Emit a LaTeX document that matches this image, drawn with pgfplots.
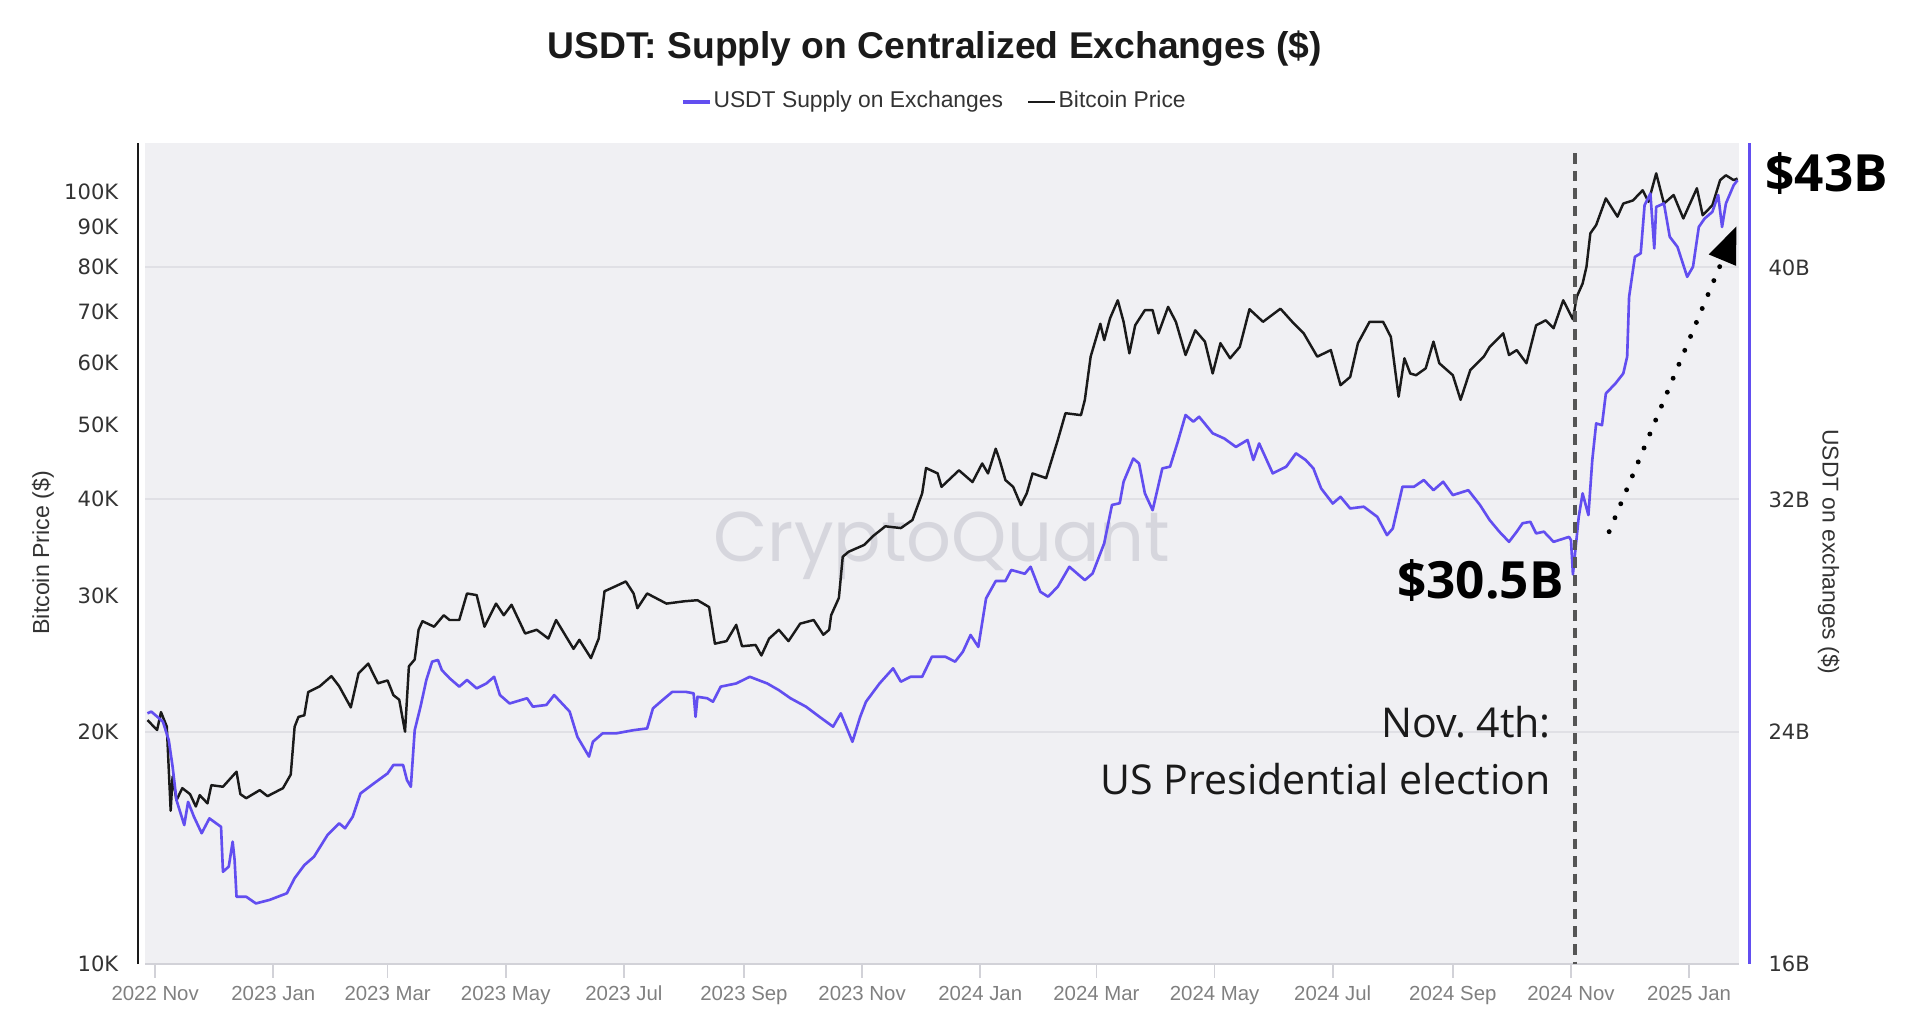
\documentclass[border=0pt]{standalone}
\usepackage{pgfplots}
\pgfplotsset{compat=1.18}
\usepackage{pgfplotstable}
\usepackage{fontspec}
\setmainfont{Liberation Sans}
\newfontfamily\tickfont{DejaVu Sans}
\newfontfamily\annfont{Open Sans}
\newfontfamily\wmfont{Poppins}
\usetikzlibrary{arrows.meta}

\definecolor{usdtc}{RGB}{98,78,240}
\definecolor{btcc}{RGB}{26,26,26}
\definecolor{plotbg}{RGB}{240,240,243}
\definecolor{gridc}{RGB}{224,224,229}
\definecolor{tickc}{RGB}{210,210,216}
\definecolor{xlabc}{RGB}{128,128,128}
\definecolor{labc}{RGB}{51,51,51}
\definecolor{wmc}{RGB}{214,214,221}
\definecolor{elecc}{RGB}{85,85,85}

% days since 2022-11-01, bitcoin price in thousands of $
\pgfplotstableread{
day btc
-4 20.7
1 20.1
3 21.2
6 20.3
8 15.8
9 17.5
11 16.3
14 16.9
18 16.6
21 16.0
23 16.55
27 16.15
29 17.05
35 16.97
42 17.75
44 16.6
47 16.4
54 16.8
58 16.5
66 16.9
70 17.6
72 20.3
74 20.9
77 21.0
79 22.5
85 22.9
91 23.6
95 22.9
101 21.5
105 23.8
110 24.5
115 23.1
120 23.3
123 22.3
126 22.0
129 20.0
131 24.3
134 24.8
136 27.1
138 27.8
144 27.35
149 28.3
152 27.9
157 27.9
161 30.2
166 30.05
170 27.35
176 29.3
180 28.3
184 29.2
191 26.8
197 27.1
203 26.4
207 27.9
216 25.6
219 26.3
225 24.9
229 26.4
232 30.4
237 30.8
243 31.3
247 30.2
249 28.9
254 30.2
264 29.3
273 29.5
280 29.6
286 29.0
289 26.0
295 26.2
300 27.5
303 25.8
310 25.9
313 25.1
317 26.4
322 27.1
327 26.2
333 27.6
340 27.9
345 26.7
348 27.1
349 28.3
353 29.8
355 33.7
358 34.2
366 34.9
371 35.9
377 36.9
385 36.7
391 37.6
396 40.7
398 43.9
404 43.2
406 41.5
415 43.6
422 42.1
427 44.5
430 43.2
434 46.5
436 44.95
439 42.35
443 41.5
447 39.3
450 40.7
453 43.2
460 42.6
466 47.7
470 51.7
478 51.4
480 53.8
483 61.2
488 67.5
490 64.3
493 68.6
497 72.4
500 67.9
503 61.8
506 67.2
511 70.3
515 70.3
518 65.6
523 71.0
527 67.9
532 61.5
537 66.2
542 64.0
546 58.2
550 63.7
555 60.9
560 63.0
565 70.5
572 67.9
581 70.6
588 67.5
593 65.6
600 61.2
607 62.4
612 56.2
617 57.6
621 63.7
627 67.9
634 67.9
638 64.9
642 54.3
645 60.9
648 58.2
651 57.9
656 59.1
660 64.0
663 60.0
670 57.9
674 53.8
679 58.8
686 61.2
689 63.0
696 65.6
699 61.5
703 62.4
708 60.0
713 67.2
718 68.2
722 66.6
727 72.4
732 68.4
734 73.2
737 76.1
739 80.0
741 88.4
744 90.6
749 98.1
755 92.9
758 96.6
763 97.5
768 100.5
771 97.1
775 105.7
779 96.6
784 99.1
789 92.4
796 101.1
799 93.3
804 96.1
808 103.6
811 105.1
815 103.6
817 104.1
}\btcdata

% days since 2022-11-01, USDT on exchanges in billions of $
\pgfplotstableread{
day usdt
-4 24.64
-2 24.70
2 24.47
4 24.35
7 23.72
9 22.80
11 21.65
15 20.79
17 21.59
20 21.08
24 20.51
28 21.02
34 20.73
35 19.18
38 19.36
40 20.22
41 19.59
42 18.32
47 18.32
52 18.09
59 18.21
68 18.44
72 18.96
77 19.41
82 19.70
89 20.45
95 20.85
98 20.68
102 21.08
106 21.88
113 22.23
120 22.57
123 22.86
128 22.86
130 22.34
132 22.11
134 24.06
137 24.87
140 25.79
143 26.42
146 26.48
148 26.13
152 25.85
157 25.56
161 25.79
166 25.50
171 25.67
175 25.90
178 25.27
183 24.98
192 25.16
195 24.87
202 24.93
206 25.27
214 24.70
218 23.83
224 23.15
226 23.66
231 23.95
238 23.95
247 24.06
254 24.12
257 24.81
262 25.10
267 25.38
274 25.38
278 25.33
279 24.52
280 25.21
285 25.16
288 25.04
292 25.56
300 25.67
307 25.90
316 25.67
322 25.44
328 25.16
336 24.87
343 24.52
350 24.18
354 24.64
360 23.66
364 24.52
367 25.04
374 25.67
381 26.19
385 25.73
390 25.90
396 25.90
401 26.59
408 26.59
413 26.42
417 26.76
421 27.34
425 26.93
429 28.60
434 29.20
439 29.20
442 29.58
449 29.45
452 29.69
457 28.83
461 28.66
466 29.00
472 29.69
480 29.23
484 29.46
490 30.50
494 31.82
498 31.88
500 32.62
505 33.42
508 33.25
511 32.22
515 31.64
520 33.08
524 33.14
528 34.00
532 34.92
536 34.69
539 34.86
546 34.29
552 34.11
558 33.82
564 34.06
567 33.37
570 33.94
577 32.91
584 33.14
589 33.60
594 33.37
598 33.08
602 32.39
608 31.87
612 32.10
617 31.70
624 31.76
631 31.41
636 30.78
639 31.01
644 32.45
650 32.45
655 32.68
660 32.33
665 32.62
670 32.16
678 32.33
684 31.82
689 31.30
694 30.90
699 30.55
703 30.90
706 31.19
710 31.24
713 30.84
717 30.90
722 30.55
730 30.72
731 30.61
732 29.43
735 31.41
737 32.22
740 31.47
742 33.37
744 34.63
747 34.57
749 35.66
754 36.01
758 36.35
760 36.93
761 38.99
764 40.37
767 40.49
769 42.15
772 42.55
774 40.66
775 42.09
779 42.21
782 41.06
786 40.71
791 39.68
794 40.03
797 41.40
800 41.69
804 41.92
807 42.50
809 41.40
811 42.21
815 42.84
817 43.01
}\usdtdata

\begin{document}
\begin{tikzpicture}
\useasboundingbox (-1.455,-0.559) rectangle (17.705,9.641);

% left axis: bitcoin price, log scale
\begin{axis}[
    scale only axis,
    width=15.94cm, height=8.21cm,
    xmin=-5, xmax=818,
    ymode=log, ymin=10, ymax=115.7,
    axis line style={draw=none},
    axis background/.style={fill=plotbg},
    clip=false,
    xtick={0,61,120,181,242,304,365,426,486,547,608,670,731,792},
    xticklabels={2022 Nov,2023 Jan,2023 Mar,2023 May,2023 Jul,2023 Sep,2023 Nov,2024 Jan,2024 Mar,2024 May,2024 Jul,2024 Sep,2024 Nov,2025 Jan},
    xtick pos=left,
    tick align=outside,
    major tick length=0.14cm,
    xtick style={draw=tickc, line width=0.5pt},
    xticklabel style={font=\fontsize{5.8}{7}\selectfont, text=xlabc, anchor=base, inner sep=0pt, yshift=-0.23cm},
    ytick={10,20,30,40,50,60,70,80,90,100},
    yticklabels={10K,20K,30K,40K,50K,60K,70K,80K,90K,100K},
    ytick pos=left,
    ytick style={draw=none},
    yticklabel style={font=\tickfont\fontsize{6}{7}\selectfont, text=labc, anchor=east, inner sep=0pt, xshift=-0.125cm},
    yminorticks=false,
    legend style={draw=none, fill=none, at={(0.495,1.050)}, anchor=center,
        legend columns=2, font=\fontsize{6.5}{8}\selectfont, text=labc,
        /tikz/every even column/.append style={column sep=0.22cm},
        nodes={inner sep=0.6pt}},
    legend image code/.code={\draw[#1] (0cm,0cm) -- (0.27cm,0cm);},
]
\draw[gridc, line width=0.6pt] (axis cs:-5,20) -- (axis cs:818,20);
\draw[gridc, line width=0.6pt] (axis cs:-5,40) -- (axis cs:818,40);
\draw[gridc, line width=0.6pt] (axis cs:-5,80) -- (axis cs:818,80);
\draw[tickc, line width=0.6pt] (rel axis cs:0,0) -- (rel axis cs:1,0);
\draw[btcc, line width=0.7pt] ([xshift=-0.075cm]rel axis cs:0,0) -- ([xshift=-0.075cm]rel axis cs:0,1);
\node[font=\wmfont\fontsize{20}{24}\selectfont, text=wmc] at (rel axis cs:0.4996,0.509) {CryptoQuant};
\node[rotate=90, font=\fontsize{6.6}{8}\selectfont, text=labc] at (rel axis cs:-0.0643,0.501) {Bitcoin Price (\$)};
\node[font=\bfseries\fontsize{10.6}{12}\selectfont, text=btcc] at (rel axis cs:0.495,1.1145) {USDT: Supply on Centralized Exchanges (\$)};

\addlegendimage{usdtc, line width=0.9pt}
\addlegendentry{USDT Supply on Exchanges}
\addplot[btcc, line width=0.7pt, line join=round] table[x=day, y=btc] {\btcdata};
\addlegendentry{Bitcoin Price}
\end{axis}

% right axis: USDT supply on exchanges, linear scale
\begin{axis}[
    scale only axis,
    width=15.94cm, height=8.21cm,
    xmin=-5, xmax=818,
    ymin=16, ymax=44.29,
    axis line style={draw=none},
    clip=false,
    xtick=\empty,
    ytick={16,24,32,40},
    yticklabels={16B,24B,32B,40B},
    ytick pos=right,
    yticklabel pos=right,
    ytick style={draw=none},
    yticklabel style={font=\tickfont\fontsize{6}{7}\selectfont, text=labc, anchor=west, inner sep=0pt, xshift=0.283cm},
]
\draw[usdtc, line width=0.8pt] ([xshift=0.10cm]rel axis cs:1,0) -- ([xshift=0.10cm]rel axis cs:1,1);
\node[rotate=-90, font=\fontsize{6.5}{8}\selectfont, text=labc] at (rel axis cs:1.056,0.502) {USDT on exchanges (\$)};

\addplot[usdtc, line width=0.75pt, line join=round] table[x=day, y=usdt] {\usdtdata};

\draw[elecc, line width=1pt, dash pattern=on 3pt off 2pt] (axis cs:733,43.94) -- (axis cs:733,16);
\draw[black, line width=1.4pt, line cap=round, dash pattern=on 0pt off 4.3pt,
      -{Triangle[length=10.5pt, width=8pt]}] (axis cs:750.7,30.90) -- (axis cs:816.5,41.43);

\node[font=\annfont\bfseries\fontsize{14.6}{17}\selectfont] at (axis cs:863,43.24) {\$43B};
\node[anchor=east, font=\annfont\bfseries\fontsize{14.6}{17}\selectfont] at (axis cs:733.6,29.22) {\$30.5B};
\node[anchor=east, inner sep=0pt, font=\annfont\fontsize{11.7}{14}\selectfont, text=btcc] at (axis cs:721,24.34) {Nov.\ 4th:};
\node[anchor=east, inner sep=0pt, font=\annfont\fontsize{11.7}{14}\selectfont, text=btcc] at (axis cs:721,22.36) {US Presidential election};
\end{axis}
\end{tikzpicture}
\end{document}
